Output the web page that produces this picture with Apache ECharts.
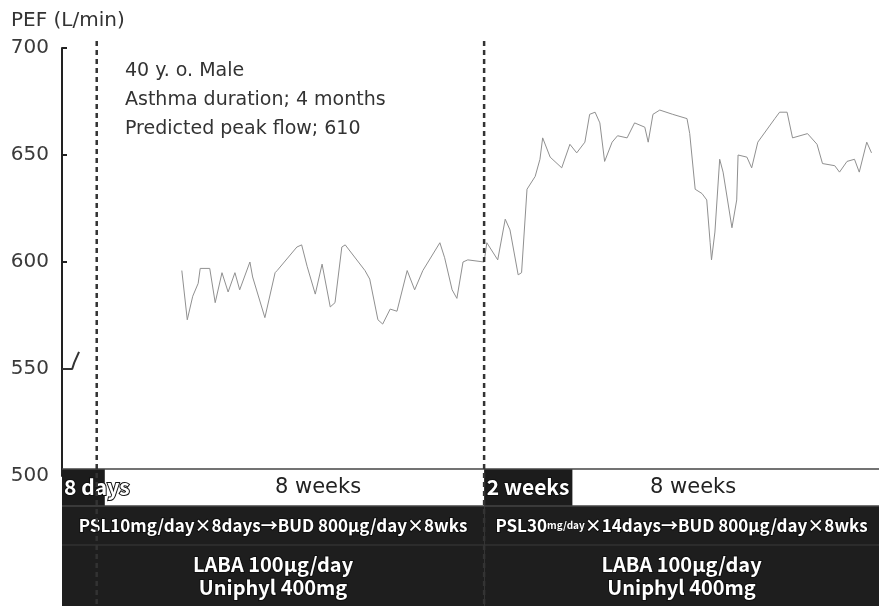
<!DOCTYPE html>
<html>
<head>
<meta charset="utf-8">
<script src="https://cdn.jsdelivr.net/npm/echarts@6/dist/echarts.min.js"></script>
<style>
  html, body { margin: 0; padding: 0; background: #fff; }
  #chart { width: 879px; height: 608px; }
</style>
</head>
<body>
<div id="chart"></div>
<script>
// run-in period (first 8 days)
var runDay = [0, 1.5, 1.8, 2.5];
var runPef = [550, 550, 553, 558];

// treatment course, day index vs PEF (L/min)
var courseDay = [17.6, 18.4, 19.2, 20.0, 20.3, 21.7, 22.5, 23.5, 24.4, 25.4, 26.1, 27.6, 28.0, 29.8, 31.3, 31.6,
  34.5, 35.2, 36.0, 37.2, 38.2, 39.4, 40.1, 41.1, 41.6, 44.5, 45.2, 46.4, 47.1, 48.2, 49.2, 50.7, 51.8, 53.0,
  55.5, 56.2, 57.3, 58.0, 58.9, 59.6, 62.0,
  62.4, 64.0, 65.1, 65.8, 67.0, 67.5, 68.3, 69.5, 70.2, 70.6, 71.7, 73.4, 74.6, 75.6, 76.8, 77.5, 78.3, 79.0,
  79.7, 80.8, 81.6, 83.0, 84.1, 85.6, 86.1, 86.8, 87.8, 89.7, 91.8, 92.2, 93.0, 94.0, 94.7, 95.2, 95.4, 95.9,
  96.6, 97.1, 98.4, 99.1, 99.3, 100.6, 101.3, 102.2, 104.7, 105.4, 106.5, 107.3, 109.5, 110.9, 111.7, 113.5,
  114.2, 115.3, 116.4, 117.1, 118.2, 118.9];
var coursePef = [596, 573, 584, 590, 597, 597, 581, 595, 586, 595, 587, 600, 593, 574, 595, 596,
  607, 608, 598, 585, 599, 579, 581, 607, 608, 596, 592, 573, 571, 578, 577, 596, 587, 596,
  609, 602, 587, 583, 600, 601, 600,
  609, 601, 620, 615, 594, 595, 634, 640, 648, 658, 649, 644, 655, 651, 656, 669, 670, 665,
  647, 656, 659, 658, 665, 663, 656, 669, 671, 669, 667, 660, 634, 632, 629, 609, 601, 614,
  648, 642, 616, 629, 650, 649, 644, 656, 667, 670, 670, 658, 660, 655, 646, 645,
  642, 647, 648, 642, 656, 651];

// dashed dividers (start of each treatment)
var dividerDay = [5.1, 62];

// period bar
var phaseStart = [0, 6.3, 62, 75];
var phaseEnd = [6.3, 62, 75, 120];
var phaseLabel = ['8 days', '8 weeks', '2 weeks', '8 weeks'];
var phaseLabelDay = [0.3, 37.6, 62.4, 92.7];
var phaseDark = [true, false, true, false];

// treatment rows
var treatStart = [0, 62];
var treatEnd = [62, 120];
var steroidLabel = ['PSL10mg/day×8days→BUD 800μg/day×8wks', 'PSL30{s|mg/day}×14days→BUD 800μg/day×8wks'];
var baseLabel = ['LABA 100μg/day\nUniphyl 400mg', 'LABA 100μg/day\nUniphyl 400mg'];

var noteLines = ['40 y. o. Male', 'Asthma duration; 4 months', 'Predicted peak flow; 610'];

function pairs(xs, ys) {
  return xs.map(function (x, i) { return [x, ys[i]]; });
}

var chart = echarts.init(document.getElementById('chart'));

chart.setOption({
  animation: false,
  backgroundColor: '#fff',
  title: {
    text: 'PEF (L/min)',
    left: 6, top: 6,
    textStyle: { fontFamily: 'DejaVu Sans', fontSize: 20, fontWeight: 'normal', color: '#333' }
  },
  grid: { left: 62, right: 0, top: 48, bottom: 132 },
  xAxis: {
    type: 'value', min: 0, max: 120,
    show: false
  },
  yAxis: {
    type: 'value', min: 500, max: 700, interval: 50,
    axisLine: { show: true, lineStyle: { color: '#222', width: 2 } },
    axisTick: { show: true, inside: true, length: 5, lineStyle: { color: '#222', width: 2 } },
    axisLabel: { fontFamily: 'DejaVu Sans', fontSize: 20, color: '#3a3a3a', margin: 13 },
    splitLine: { show: false }
  },
  series: [{
    name: 'run-in',
    type: 'line',
    data: pairs(runDay, runPef),
    showSymbol: false,
    lineStyle: { color: '#333', width: 2 }
  }, {
    name: 'PEF',
    type: 'line',
    data: pairs(courseDay, coursePef),
    showSymbol: false,
    lineStyle: { color: '#909090', width: 1 }
  }]
});

// table under the plot, placed from the day scale
function px(day) { return chart.convertToPixel({ xAxisIndex: 0 }, day); }

var rowTop = 469, row1Bot = 506, row2Bot = 545, tableBot = 606;
var outline = { fill: '#fff', stroke: '#111', lineWidth: 2, strokeFirst: true };
var g = [];

g.push({
  type: 'text', left: 125, top: 57,
  style: { text: noteLines.join('\n'), font: '19px "DejaVu Sans"', fill: '#333', lineHeight: 29 }
});

phaseStart.forEach(function (s, i) {
  var x0 = px(s), x1 = px(phaseEnd[i]);
  g.push({
    type: 'rect', shape: { x: x0, y: rowTop, width: x1 - x0, height: row1Bot - rowTop },
    style: { fill: phaseDark[i] ? '#1c1c1c' : '#fff' }, z: 10
  });
  var st = phaseDark[i]
    ? Object.assign({ text: phaseLabel[i], font: 'bold 21px "Noto Sans CJK JP"', textVerticalAlign: 'middle' }, outline)
    : { text: phaseLabel[i], font: '21px "DejaVu Sans"', fill: '#222', textAlign: 'center', textVerticalAlign: 'middle' };
  g.push({
    type: 'text', z: 12,
    x: px(phaseLabelDay[i]),
    y: (rowTop + row1Bot) / 2,
    style: st
  });
});
g.push({ type: 'line', z: 11, shape: { x1: px(0), y1: rowTop, x2: px(120), y2: rowTop }, style: { stroke: '#444', lineWidth: 1.5 } });
g.push({ type: 'line', z: 11, shape: { x1: px(0), y1: row1Bot, x2: px(120), y2: row1Bot }, style: { stroke: '#444', lineWidth: 1.5 } });

treatStart.forEach(function (s, i) {
  var x0 = px(s), x1 = px(treatEnd[i]);
  g.push({
    type: 'rect', z: 10, shape: { x: x0, y: row1Bot, width: x1 - x0, height: tableBot - row1Bot },
    style: { fill: '#1e1e1e' }
  });
  g.push({
    type: 'line', z: 11, shape: { x1: x0, y1: row2Bot, x2: x1, y2: row2Bot },
    style: { stroke: '#3a3a3a', lineWidth: 1 }
  });
  g.push({
    type: 'text', z: 12, x: (x0 + x1) / 2, y: (row1Bot + row2Bot) / 2,
    style: Object.assign({
      text: steroidLabel[i], font: 'bold 17px "Noto Sans CJK JP"',
      textAlign: 'center', textVerticalAlign: 'middle',
      rich: { s: { fontSize: 10, fontWeight: 'bold', fontFamily: 'Noto Sans CJK JP', fill: '#fff', stroke: '#111', lineWidth: 1 } }
    }, outline)
  });
  g.push({
    type: 'text', z: 12, x: (x0 + x1) / 2, y: (row2Bot + tableBot) / 2,
    style: Object.assign({
      text: baseLabel[i], font: 'bold 20px "Noto Sans CJK JP"', lineHeight: 23,
      textAlign: 'center', textVerticalAlign: 'middle'
    }, outline)
  });
});

dividerDay.forEach(function (d) {
  var x = px(d);
  g.push({
    type: 'line', z: 13, shape: { x1: x, y1: 41, x2: x, y2: 608 },
    style: { stroke: '#333', lineWidth: 2.5, lineDash: [5, 4] }
  });
});

chart.setOption({ graphic: g });
</script>
</body>
</html>
